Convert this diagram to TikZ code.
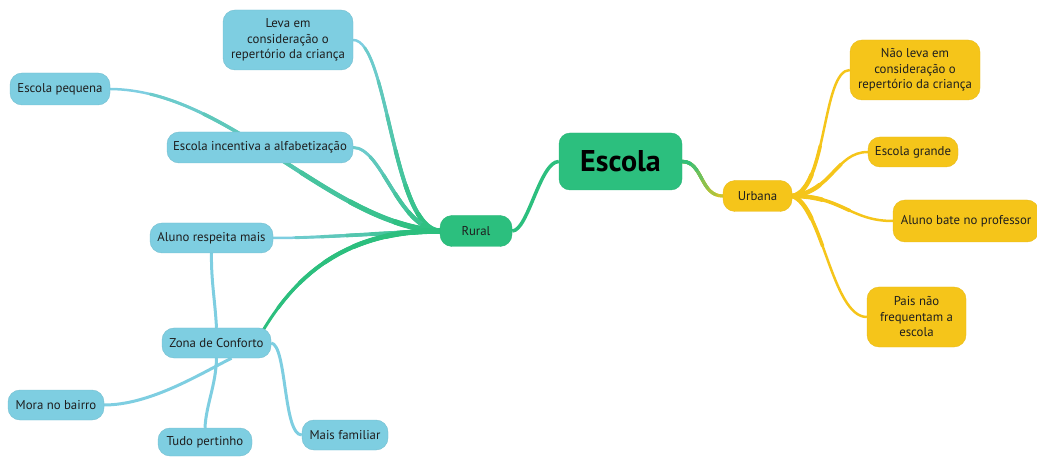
\documentclass[tikz,border=0pt]{standalone}
\usepackage{fontspec}
\setmainfont{PT Sans}
\definecolor{cgreen}{HTML}{2CBF7E}
\definecolor{cblue}{HTML}{7ECEE1}
\definecolor{cyellow}{HTML}{F5C51A}
\definecolor{ctext}{HTML}{1E1E1E}
\pgfdeclarelayer{bg}
\pgfsetlayers{bg,main}
\newcommand\gradbranch[6]{%
  % #1 path, #2 start colour, #3 end colour, #4 length, #5 start width, #6 end width
  \draw[#3, line width=#6pt, line cap=round] #1;
  \foreach \f in {0.85,0.7,0.55,0.4,0.25,0.12}{%
    \pgfmathtruncatemacro\pc{100*(1-\f)+8}%
    \pgfmathsetmacro\lw{#6+(#5-#6)*(1-\f)}%
    \pgfmathsetmacro\dl{#4*\f}%
    \ifnum\pc>100 \def\pc{100}\fi
    \draw[#2!\pc!#3, line width=\lw pt, line cap=round, dash pattern=on \dl pt off 3000pt] #1;
  }%
}
\begin{document}
\begin{tikzpicture}[x=1pt,y=-1pt,
  box/.style={rounded corners=12pt, inner sep=0pt, text=ctext, align=center,
    font=\fontsize{12.8}{15.5}\selectfont},
  bluebox/.style={box, fill=cblue, draw=cblue!92!black},
  yelbox/.style={box, fill=cyellow, draw=cyellow!95!black},
  greenbox/.style={box, fill=cgreen, draw=cgreen!95!black},
]
\useasboundingbox (0,0) rectangle (1037,457);
% nodes
\node[greenbox, rounded corners=11pt, minimum width=123pt, minimum height=57pt,
  font=\fontsize{30}{32}\selectfont\bfseries, text=black] (escola) at (620.5,161.5) {Escola};
\node[greenbox, minimum width=72pt, minimum height=31pt] (rural) at (476,231) {Rural};
\node[yelbox, minimum width=69pt, minimum height=31pt] (urbana) at (757.5,196) {Urbana};

\node[bluebox, minimum width=130pt, minimum height=60pt] (leva) at (288,40)
  {Leva em\\consideração o\\repertório da criança};
\node[bluebox, minimum width=100pt, minimum height=32pt] (pequena) at (60,89) {Escola pequena};
\node[bluebox, minimum width=186pt, minimum height=31pt] (incentiva) at (260,147.5) {Escola incentiva a alfabetização};
\node[bluebox, minimum width=123pt, minimum height=30pt] (aluno) at (211.5,238) {Aluno respeita mais};
\node[bluebox, minimum width=109pt, minimum height=30pt] (zona) at (216.5,343) {Zona de Conforto};
\node[bluebox, minimum width=96pt, minimum height=30pt] (mora) at (56,405) {Mora no bairro};
\node[bluebox, minimum width=94pt, minimum height=28pt] (tudo) at (205,442) {Tudo pertinho};
\node[bluebox, minimum width=86pt, minimum height=30pt] (mais) at (345,435) {Mais familiar};

\node[yelbox, minimum width=130pt, minimum height=60pt] (naoleva) at (915,70)
  {Não leva em\\consideração o\\repertório da criança};
\node[yelbox, minimum width=90pt, minimum height=30pt] (grande) at (913,152) {Escola grande};
\node[yelbox, minimum width=146pt, minimum height=42pt] (bate) at (966,221) {Aluno bate no professor};
\node[yelbox, minimum width=99pt, minimum height=60pt] (pais) at (916.5,317)
  {Pais não\\frequentam a\\escola};

% connectors
\begin{pgfonlayer}{bg}
\draw[cgreen, line width=3.5pt] (escola.west) .. controls (540,161.5) and (528,231) .. (rural.east);
\gradbranch{(escola.east) .. controls (703,161.5) and (700,196) .. (urbana.west)}{cgreen}{cyellow}{70}{3.5}{3}

\gradbranch{(rural.west) .. controls (392,228) and (388,40) .. (leva.east)}{cgreen}{cblue}{240}{5}{2.5}
\gradbranch{(rural.west) .. controls (398,228) and (382,147.5) .. (incentiva.east)}{cgreen}{cblue}{150}{5}{2.5}
\gradbranch{(rural.west) .. controls (330,225) and (230,90) .. (pequena.east)}{cgreen}{cblue}{380}{6}{2.5}
\gradbranch{(rural.west) .. controls (380,233) and (320,238) .. (aluno.east)}{cgreen}{cblue}{170}{5}{2.5}
\gradbranch{(rural.west) .. controls (340,230) and (292,282) .. ([xshift=-9pt,yshift=-4pt]zona.north east)}{cgreen}{cgreen}{220}{6}{3}

\draw[cblue, line width=3pt] (aluno.south) .. controls (211,280) and (215,300) .. (zona.north);
\draw[cblue, line width=3pt] (zona.south) .. controls (216,385) and (206,405) .. (tudo.north);
\draw[cblue, line width=3pt] ([xshift=15pt]zona.south) .. controls (200,374) and (150,405) .. (mora.east);
\draw[cblue, line width=3pt] (zona.east) .. controls (287,345) and (283,435) .. (mais.west);

\foreach \t/\a/\b in {naoleva/{(827,190)}/{(822,70)}, grande/{(832,192)}/{(836,152)}, bate/{(842,196)}/{(850,221)}, pais/{(822,205)}/{(832,317)}}{
  \draw[cyellow, line width=2.5pt] (urbana.east) .. controls \a and \b .. (\t.west);
  \draw[cyellow, line width=4.5pt, line cap=round, dash pattern=on 30pt off 3000pt] (urbana.east) .. controls \a and \b .. (\t.west);
  \draw[cyellow, line width=3.5pt, line cap=round, dash pattern=on 60pt off 3000pt] (urbana.east) .. controls \a and \b .. (\t.west);
}
\end{pgfonlayer}
\end{tikzpicture}
\end{document}
